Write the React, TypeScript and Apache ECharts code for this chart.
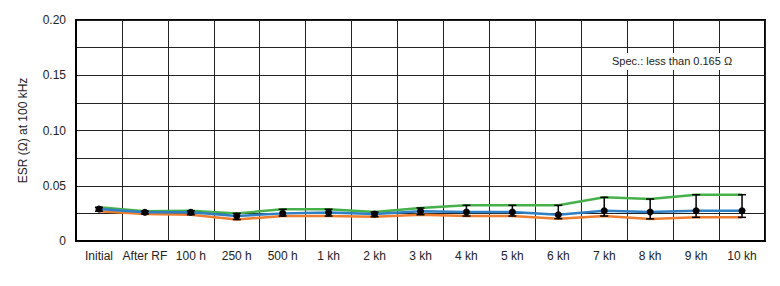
import React, { useEffect, useRef } from "react";
import * as echarts from "echarts";

const categories = ["Initial", "After RF", "100 h", "250 h", "500 h", "1 kh", "2 kh", "3 kh", "4 kh", "5 kh", "6 kh", "7 kh", "8 kh", "9 kh", "10 kh"];
const greenValues = [0.0305, 0.027, 0.0274, 0.025, 0.0287, 0.0287, 0.0262, 0.0299, 0.0323, 0.0323, 0.0323, 0.0395, 0.038, 0.0419, 0.0419];
const blueValues = [0.029, 0.026, 0.026, 0.0226, 0.025, 0.0257, 0.0244, 0.0269, 0.0262, 0.0262, 0.0238, 0.0274, 0.0262, 0.0274, 0.0274];
const orangeValues = [0.027, 0.0244, 0.0238, 0.0194, 0.0226, 0.0226, 0.022, 0.0238, 0.0226, 0.0226, 0.0202, 0.0226, 0.020, 0.0214, 0.0214];
const yTickLabels = ["0", "0.05", "0.10", "0.15", "0.20"];
const specText = "Spec.: less than 0.165 Ω";

export default function App() {
  const ref = useRef<HTMLDivElement>(null);
  useEffect(() => {
    if (!ref.current) return;
    const chart = echarts.init(ref.current, null, { renderer: "svg" });
    const errData = categories.map((_, i) => [i, orangeValues[i], greenValues[i], blueValues[i]]);
    const font = "Liberation Sans, Arial, sans-serif";
    chart.setOption({
      animation: false,
      textStyle: { fontFamily: font },
      grid: { left: 76, right: 15, top: 20, bottom: 45, show: true, borderColor: "#000", borderWidth: 2, backgroundColor: "transparent" },
      xAxis: {
        type: "category",
        data: categories,
        boundaryGap: true,
        axisLine: { lineStyle: { color: "#000", width: 2 } },
        axisTick: { show: false },
        axisLabel: { color: "#222", fontSize: 12, margin: 9, interval: 0, fontFamily: font },
        splitLine: { show: true, interval: 0, lineStyle: { color: "#222", width: 1 } },
      },
      yAxis: {
        type: "value",
        min: 0,
        max: 0.2,
        interval: 0.025,
        name: "ESR (Ω) at 100 kHz",
        nameLocation: "middle",
        nameGap: 47,
        nameTextStyle: { color: "#222", fontSize: 12, fontFamily: font },
        axisLine: { show: true, lineStyle: { color: "#000", width: 2 } },
        axisTick: { show: false },
        axisLabel: {
          color: "#222",
          fontSize: 12,
          margin: 10,
          fontFamily: font,
          formatter: (v: number) => {
            const k = Math.round(v / 0.05 * 1000) / 1000;
            if (Math.abs(k - Math.round(k)) > 1e-6) return "";
            return yTickLabels[Math.round(k)];
          },
        },
        splitLine: { show: true, lineStyle: { color: "#222", width: 1 } },
      },
      series: [
        { type: "line", data: orangeValues, symbol: "none", lineStyle: { color: "#ee7d2f", width: 2.5 }, z: 2 },
        { type: "line", data: greenValues, symbol: "none", lineStyle: { color: "#46b04a", width: 2.5 }, z: 2 },
        { type: "line", data: blueValues, symbol: "none", lineStyle: { color: "#2f7fc4", width: 2.5 }, z: 3 },
        {
          type: "custom",
          z: 5,
          data: errData,
          renderItem: (params: any, api: any) => {
            const x = api.value(0);
            const lo = api.coord([x, api.value(1)]);
            const hi = api.coord([x, api.value(2)]);
            const mid = api.coord([x, api.value(3)]);
            const cw = 4;
            const st = { stroke: "#000", lineWidth: 1.5 };
            return {
              type: "group",
              children: [
                { type: "line", shape: { x1: lo[0], y1: lo[1], x2: hi[0], y2: hi[1] }, style: st },
                { type: "line", shape: { x1: lo[0] - cw, y1: lo[1], x2: lo[0] + cw, y2: lo[1] }, style: st },
                { type: "line", shape: { x1: hi[0] - cw, y1: hi[1], x2: hi[0] + cw, y2: hi[1] }, style: st },
                { type: "circle", shape: { cx: mid[0], cy: mid[1], r: 3.5 }, style: { fill: "#000" } },
              ],
            };
          },
        },
      ],
      graphic: [
        {
          type: "rect",
          left: 592,
          top: 53,
          shape: { width: 162, height: 17 },
          style: { fill: "#fff" },
          z: 10,
        },
        {
          type: "text",
          left: 612,
          top: 55,
          style: { text: specText, fill: "#222", fontSize: 11, fontFamily: font },
          z: 11,
        },
      ],
    });
    return () => chart.dispose();
  }, []);
  return <div ref={ref} style={{ position: "absolute", left: 0, top: 0, width: 780, height: 286 }} />;
}
